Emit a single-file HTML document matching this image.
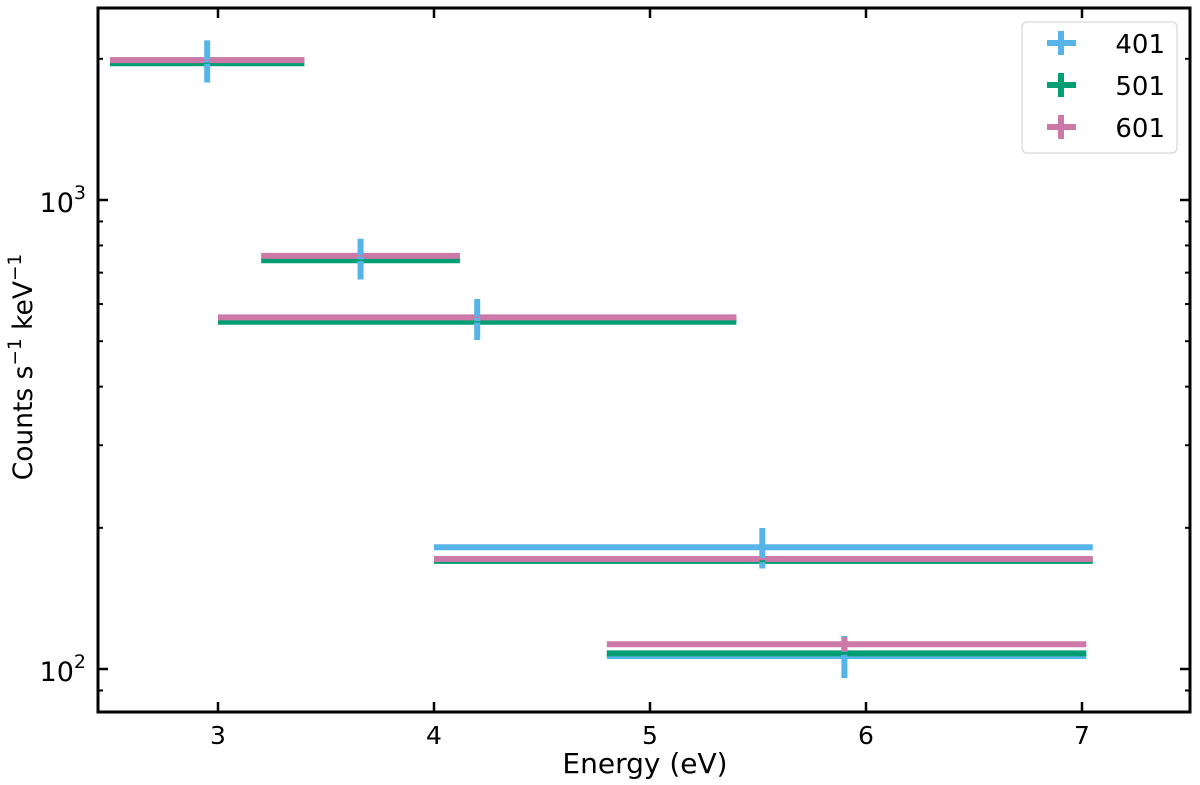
<!DOCTYPE html>
<html><head><meta charset="utf-8"><style>body{margin:0;background:#fff}svg{display:block;font-family:"DejaVu Sans","Liberation Sans",sans-serif}</style></head>
<body>
<svg id="chart" width="1200" height="785" viewBox="0 0 1200 785" xmlns="http://www.w3.org/2000/svg"></svg>
<script>
const seriesNames = ["401","501","601"];
const seriesColors = ["#56B4E9","#009E73","#CC79A7"];
const xLow = [[2.5,3.2,3.0,4.0,4.8],[2.5,3.2,3.0,4.0,4.8],[2.5,3.2,3.0,4.0,4.8]];
const xHigh = [[3.4,4.12,5.4,7.05,7.02],[3.4,4.12,5.4,7.05,7.02],[3.4,4.12,5.4,7.05,7.02]];
const xCenter = [[2.95,3.66,4.2,5.52,5.9],[2.95,3.66,4.2,5.52,5.9],[2.95,3.66,4.2,5.52,5.9]];
const yVals = [[1985,752,559,181.8,106.6],[1957,744,550,170.0,108.0],[1987,760,562,171.6,112.9]];
const yErr = [[205,75,56,18,11],[6,3,2,1,0.8],[6,3,2,1,4]];
const xTicks = [3,4,5,6,7];
const yMinor = [90,200,300,400,500,600,700,800,900,2000];

const svg = document.getElementById('chart');
const NS = 'http://www.w3.org/2000/svg';
const L=98,R=1190,T=8,B=712;
const X = v => 218 + (v-3)*216;
const Y = v => 200 - 469*(Math.log10(v)-3);
function mk(tag, attrs, parent){const e=document.createElementNS(NS,tag);for(const k in attrs)e.setAttribute(k,attrs[k]);(parent||svg).appendChild(e);return e;}

const plot = mk('g',{});


for(let s=0;s<3;s++){
  const g=mk('g',{},plot);
  
  
  for(let i=0;i<yVals[s].length;i++){
    const l=mk('line',{x1:X(xLow[s][i]),x2:X(xHigh[s][i]),y1:Y(yVals[s][i]),y2:Y(yVals[s][i]),stroke:seriesColors[s],'stroke-width':6},g);
    
    
  }
}
for(let s=0;s<3;s++){
  for(let i=0;i<yVals[s].length;i++){
    const l=mk('line',{x1:X(xCenter[s][i]),x2:X(xCenter[s][i]),y1:Y(yVals[s][i]+yErr[s][i]),y2:Y(yVals[s][i]-yErr[s][i]),stroke:seriesColors[s],'stroke-width':6},plot);
    
    
  }
}
const frame=mk('rect',{x:L,y:T,width:R-L,height:B-T,fill:'none',stroke:'#000','stroke-width':3});


xTicks.forEach(t=>{
  mk('line',{x1:X(t),x2:X(t),y1:B,y2:B-10,stroke:'#000','stroke-width':2.5});
  mk('line',{x1:X(t),x2:X(t),y1:T,y2:T+10,stroke:'#000','stroke-width':2.5});
  const tx=mk('text',{x:X(t),y:B+32,'font-size':25,'text-anchor':'middle'});
  tx.textContent=t;
  
  
});
[100,1000].forEach(v=>{
  mk('line',{x1:L,x2:L+10,y1:Y(v),y2:Y(v),stroke:'#000','stroke-width':2.5});
  mk('line',{x1:R,x2:R-10,y1:Y(v),y2:Y(v),stroke:'#000','stroke-width':2.5});
  const tx=mk('text',{x:L-12,y:Y(v)+12,'font-size':27,'text-anchor':'end'});
  tx.innerHTML='10<tspan dy="-13" font-size="19">'+Math.round(Math.log10(v))+'</tspan>';
  
  
});
yMinor.forEach(v=>{
  mk('line',{x1:L,x2:L+5,y1:Y(v),y2:Y(v),stroke:'#000','stroke-width':2});
  mk('line',{x1:R,x2:R-5,y1:Y(v),y2:Y(v),stroke:'#000','stroke-width':2});
});
const xl=mk('text',{x:645,y:773,'font-size':28,'text-anchor':'middle'});
xl.textContent='Energy (eV)';


const yl=mk('text',{x:0,y:0,'font-size':26.5,'text-anchor':'middle',transform:'translate(32,367) rotate(-90)'});
yl.innerHTML='Counts s<tspan dy="-11" font-size="18.5">−1</tspan><tspan dy="11"> keV</tspan><tspan dy="-11" font-size="18.5">−1</tspan>';


const lg=mk('g',{});


mk('rect',{x:1022,y:22,width:155,height:131,rx:5,fill:'#fff',stroke:'#ddd','stroke-width':1.5},lg);
seriesNames.forEach((n,s)=>{
  const cy=43+s*42;
  const e=mk('g',{},lg);
  
  
  mk('line',{x1:1047,x2:1076,y1:cy,y2:cy,stroke:seriesColors[s],'stroke-width':6},e);
  mk('line',{x1:1061,x2:1061,y1:cy-12,y2:cy+12,stroke:seriesColors[s],'stroke-width':6},e);
  const t=mk('text',{x:1165,y:cy+10,'font-size':26,'text-anchor':'end'},e);
  t.textContent=n;
});
</script>
</body></html>
